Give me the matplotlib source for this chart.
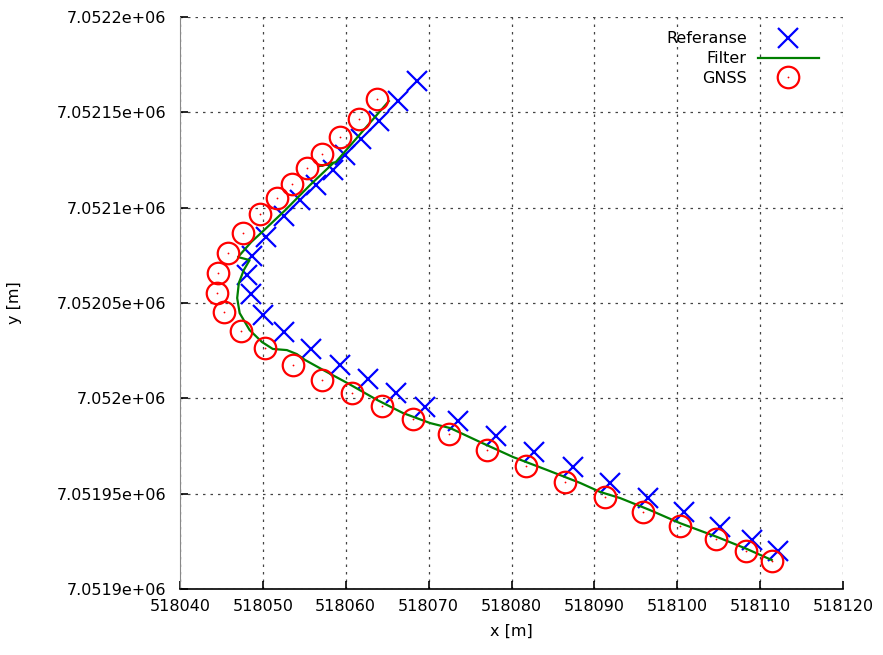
import matplotlib
matplotlib.use('Agg')
import matplotlib.pyplot as plt
from matplotlib.legend_handler import HandlerTuple

# Reference track (blue crosses)
ref_x = [518068.6, 518066.3, 518064.0, 518061.8, 518059.9, 518058.5, 518056.4, 518054.5,
         518052.6, 518050.4, 518048.7, 518048.1, 518048.6, 518050.0, 518052.6, 518055.8,
         518059.3, 518062.7, 518066.1, 518069.6, 518073.6, 518078.1, 518082.7, 518087.4,
         518091.9, 518096.5, 518100.8, 518105.2, 518109.0, 518112.2]
ref_y = [7052166.4, 7052155.9, 7052145.4, 7052136.0, 7052127.6, 7052119.7, 7052111.9, 7052104.0,
         7052095.6, 7052084.6, 7052074.6, 7052064.7, 7052054.7, 7052043.7, 7052034.8, 7052025.9,
         7052017.5, 7052010.1, 7052002.8, 7051995.4, 7051988.1, 7051980.2, 7051971.8, 7051964.0,
         7051955.6, 7051947.7, 7051940.4, 7051932.5, 7051925.7, 7051919.9]

# GNSS measurements (red circles)
gnss_x = [518063.8, 518061.6, 518059.3, 518057.1, 518055.3, 518053.5, 518051.7, 518049.7,
          518047.6, 518045.8, 518044.6, 518044.5, 518045.3, 518047.4, 518050.3, 518053.6,
          518057.1, 518060.8, 518064.4, 518068.1, 518072.5, 518077.1, 518081.8, 518086.5,
          518091.3, 518095.9, 518100.3, 518104.7, 518108.3, 518111.4]
gnss_y = [7052156.9, 7052146.5, 7052137.0, 7052128.1, 7052120.8, 7052112.4, 7052105.0, 7052096.6,
          7052086.7, 7052076.2, 7052065.7, 7052055.2, 7052045.3, 7052035.3, 7052026.4, 7052017.5,
          7052009.6, 7052002.8, 7051996.0, 7051989.1, 7051981.3, 7051972.9, 7051964.5, 7051956.1,
          7051948.2, 7051940.4, 7051933.0, 7051926.2, 7051919.9, 7051914.7]

# Filter estimate (green line)
filt_x = [518065.2, 518061.1, 518058.8, 518056.8, 518058.5, 518055.7, 518052.7, 518049.9,
          518048.6, 518047.0, 518048.4, 518047.7, 518047.1, 518046.9, 518047.2, 518048.4,
          518049.9, 518051.2, 518052.9, 518054.1, 518055.1, 518057.3, 518060.2, 518063.8,
          518066.9, 518070.2, 518072.6, 518076.2, 518080.2, 518084.3, 518088.3, 518090.7,
          518093.1, 518096.7, 518100.3, 518104.8, 518108.4, 518111.4]
filt_y = [7052155.9, 7052135.4, 7052123.9, 7052121.8, 7052123.4, 7052111.9, 7052098.7, 7052087.2,
          7052082.0, 7052074.1, 7052072.5, 7052067.3, 7052060.5, 7052052.6, 7052044.7, 7052035.8,
          7052029.5, 7052025.9, 7052025.3, 7052023.2, 7052020.1, 7052014.8, 7052008.0, 7051999.1,
          7051992.3, 7051987.0, 7051984.4, 7051977.1, 7051969.2, 7051962.4, 7051955.6, 7051950.9,
          7051947.7, 7051941.4, 7051934.6, 7051927.3, 7051921.0, 7051915.2]

x_ticks = [518040, 518050, 518060, 518070, 518080, 518090, 518100, 518110, 518120]
y_ticks = [7051900, 7051950, 7052000, 7052050, 7052100, 7052150, 7052200]
y_labels = ['7.0519e+06', '7.05195e+06', '7.052e+06', '7.05205e+06',
            '7.0521e+06', '7.05215e+06', '7.0522e+06']

plt.rcParams['font.family'] = ['DejaVu Sans']

fig = plt.figure(figsize=(8.83, 6.55), dpi=100)
ax = fig.add_axes([180 / 883, 1 - 589 / 655, (843 - 180) / 883, (589 - 17) / 655])

h_ref, = ax.plot(ref_x, ref_y, linestyle='none', marker='x', color='#0000ff',
                 markersize=14, markeredgewidth=1.6)
h_filt, = ax.plot(filt_x, filt_y, color='#007f00', linewidth=1.6)
h_gnss, = ax.plot(gnss_x, gnss_y, linestyle='none', marker='o', markerfacecolor='none',
                  markeredgecolor='#ff0000', markersize=15.5, markeredgewidth=1.6)
h_dot, = ax.plot(gnss_x, gnss_y, linestyle='none', marker='o', color='#ff0000',
                 markersize=1.3, markeredgewidth=0)

ax.set_xlim(518040, 518120)
ax.set_ylim(7051900, 7052200)
ax.set_xticks(x_ticks)
ax.set_xticklabels([str(v) for v in x_ticks])
ax.set_yticks(y_ticks)
ax.set_yticklabels(y_labels)
ax.tick_params(direction='in', length=6, width=1.2, labelsize=11.5,
               top=False, right=False)
ax.tick_params(axis='y', pad=10)
ax.tick_params(axis='x', pad=7)

ax.grid(True, color='#444444', linestyle=(0, (2, 4)), linewidth=0.9)
ax.spines['top'].set_visible(False)
ax.spines['right'].set_visible(False)
ax.spines['left'].set_color('#888888')
ax.spines['bottom'].set_linewidth(1.2)

ax.set_xlabel('x [m]', fontsize=11.5, labelpad=7)
ax.set_ylabel('y [m]', fontsize=11.5, labelpad=25)

leg = ax.legend([h_ref, h_filt, (h_gnss, h_dot)], ['Referanse', 'Filter', 'GNSS'],
                handler_map={tuple: HandlerTuple(ndivide=1)},
                loc='upper right', frameon=False, markerfirst=False,
                fontsize=11.5, handlelength=3.8, handletextpad=0.7,
                labelspacing=0.3, borderaxespad=0.5,
                bbox_to_anchor=(0.985, 1.0))
for t in leg.get_texts():
    t.set_ha('right')

fig.savefig('out.png', dpi=100)
